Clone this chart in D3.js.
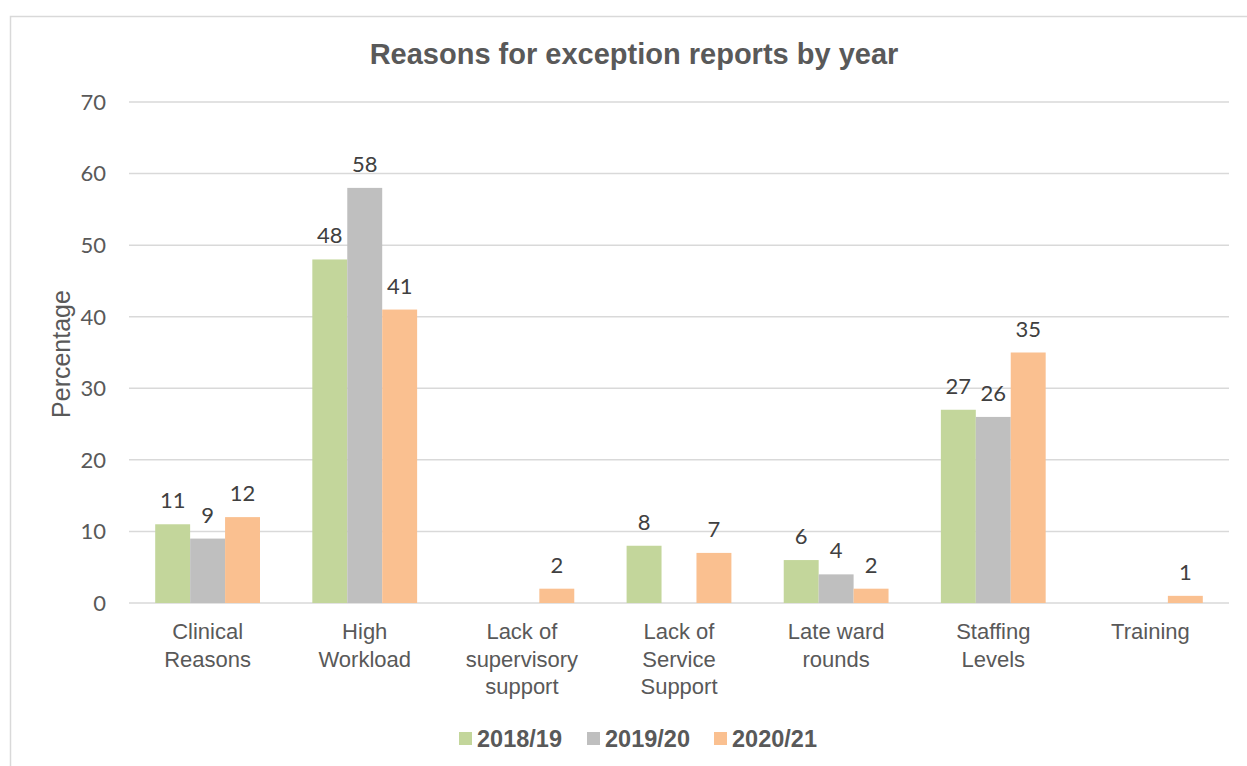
<!DOCTYPE html>
<html lang="en">
<head>
    <meta charset="UTF-8">
    <title>Reasons for exception reports by year</title>
    <script src="https://d3js.org/d3.v7.min.js"></script>
    <style>
        body { margin: 0; background: #fff; }
        .tick-label, .value-label { font-family: Lato, 'Noto Sans', sans-serif; font-size: 22px; }
        .tick-label { fill: #595959; }
        .value-label { fill: #404040; }
        .cat-label { font-family: 'Liberation Sans', Arial, sans-serif; font-size: 22px; fill: #595959; }
        .title { font-family: 'Liberation Sans', Arial, sans-serif; font-size: 29px; font-weight: bold; fill: #595959; }
        .axis-title { font-family: 'Liberation Sans', Arial, sans-serif; font-size: 25px; fill: #595959; }
        .legend-label { font-family: 'Liberation Sans', Arial, sans-serif; font-size: 23.5px; font-weight: bold; fill: #595959; }
    </style>
</head>
<body>
<script>
    const width  = 1247;
    const height = 766;

    const categories = ["Clinical\nReasons", "High\nWorkload", "Lack of\nsupervisory\nsupport",
                        "Lack of\nService\nSupport", "Late ward\nrounds", "Staffing\nLevels", "Training"];
    const seriesNames = ["2018/19", "2019/20", "2020/21"];
    const values2018 = [11, 48, null, 8, 6, 27, null];
    const values2019 = [9, 58, null, null, 4, 26, null];
    const values2020 = [12, 41, 2, 7, 2, 35, 1];
    const yTicks = [0, 10, 20, 30, 40, 50, 60, 70];
    const colors = ["#c3d69b", "#bfbfbf", "#fac090"];

    const series = [values2018, values2019, values2020];

    const svg = d3.select("body").append("svg").attr("width", width).attr("height", height);

    // chart border
    svg.append("rect")
        .attr("x", 10.5).attr("y", 16.5)
        .attr("width", width).attr("height", height)
        .attr("fill", "none").attr("stroke", "#d9d9d9").attr("stroke-width", 1.5);

    const x0 = d3.scaleBand()
        .domain(d3.range(categories.length))
        .range([129, 1229])
        .paddingInner(0.333)
        .paddingOuter(0.1667);

    const x1 = d3.scaleBand()
        .domain(d3.range(seriesNames.length))
        .range([0, x0.bandwidth()]);

    const y = d3.scaleLinear().domain([0, 70]).range([603, 102]);

    // gridlines
    svg.append("g").selectAll("line")
        .data(yTicks).enter()
        .append("line")
        .attr("x1", 129).attr("x2", 1229)
        .attr("y1", d => y(d)).attr("y2", d => y(d))
        .attr("stroke", "#d9d9d9").attr("stroke-width", 1.5);

    svg.append("g").selectAll("text")
        .data(yTicks).enter()
        .append("text")
        .attr("class", "tick-label")
        .attr("x", 106)
        .attr("y", d => y(d))
        .attr("dy", "0.36em")
        .attr("text-anchor", "end")
        .text(d => d);

    // bars
    const groups = svg.append("g").selectAll("g")
        .data(series).enter()
        .append("g")
        .attr("fill", (d, i) => colors[i]);

    groups.each(function (vals, si) {
        const g = d3.select(this);
        const pts = vals.map((v, ci) => ({v, ci})).filter(d => d.v != null);
        g.selectAll("rect")
            .data(pts).enter()
            .append("rect")
            .attr("x", d => x0(d.ci) + x1(si))
            .attr("width", x1.bandwidth())
            .attr("y", d => y(d.v))
            .attr("height", d => y(0) - y(d.v));
        g.selectAll("text")
            .data(pts).enter()
            .append("text")
            .attr("class", "value-label")
            .attr("x", d => x0(d.ci) + x1(si) + x1.bandwidth() / 2)
            .attr("y", d => y(d.v) - 16)
            .attr("text-anchor", "middle")
            .text(d => d.v);
    });

    // category labels
    const cat = svg.append("g").selectAll("text")
        .data(categories).enter()
        .append("text")
        .attr("class", "cat-label")
        .attr("text-anchor", "middle")
        .attr("transform", (d, i) => `translate(${x0(i) + x0.bandwidth() / 2},639)`);
    cat.selectAll("tspan")
        .data(d => d.split("\n")).enter()
        .append("tspan")
        .attr("x", 0)
        .attr("y", (d, i) => i * 27.5)
        .text(d => d);

    // title and axis title
    svg.append("text")
        .attr("class", "title")
        .attr("x", 634).attr("y", 64)
        .attr("text-anchor", "middle")
        .text("Reasons for exception reports by year");

    svg.append("text")
        .attr("class", "axis-title")
        .attr("transform", "translate(70,354) rotate(-90)")
        .attr("text-anchor", "middle")
        .text("Percentage");

    // legend
    const legendX = [459, 587, 714];
    const legend = svg.append("g").selectAll("g")
        .data(seriesNames).enter()
        .append("g")
        .attr("transform", (d, i) => `translate(${legendX[i]},732)`);
    legend.append("rect")
        .attr("width", 13).attr("height", 13)
        .attr("fill", (d, i) => colors[i]);
    legend.append("text")
        .attr("class", "legend-label")
        .attr("x", 18).attr("y", 15)
        .text(d => d);
</script>
</body>
</html>
